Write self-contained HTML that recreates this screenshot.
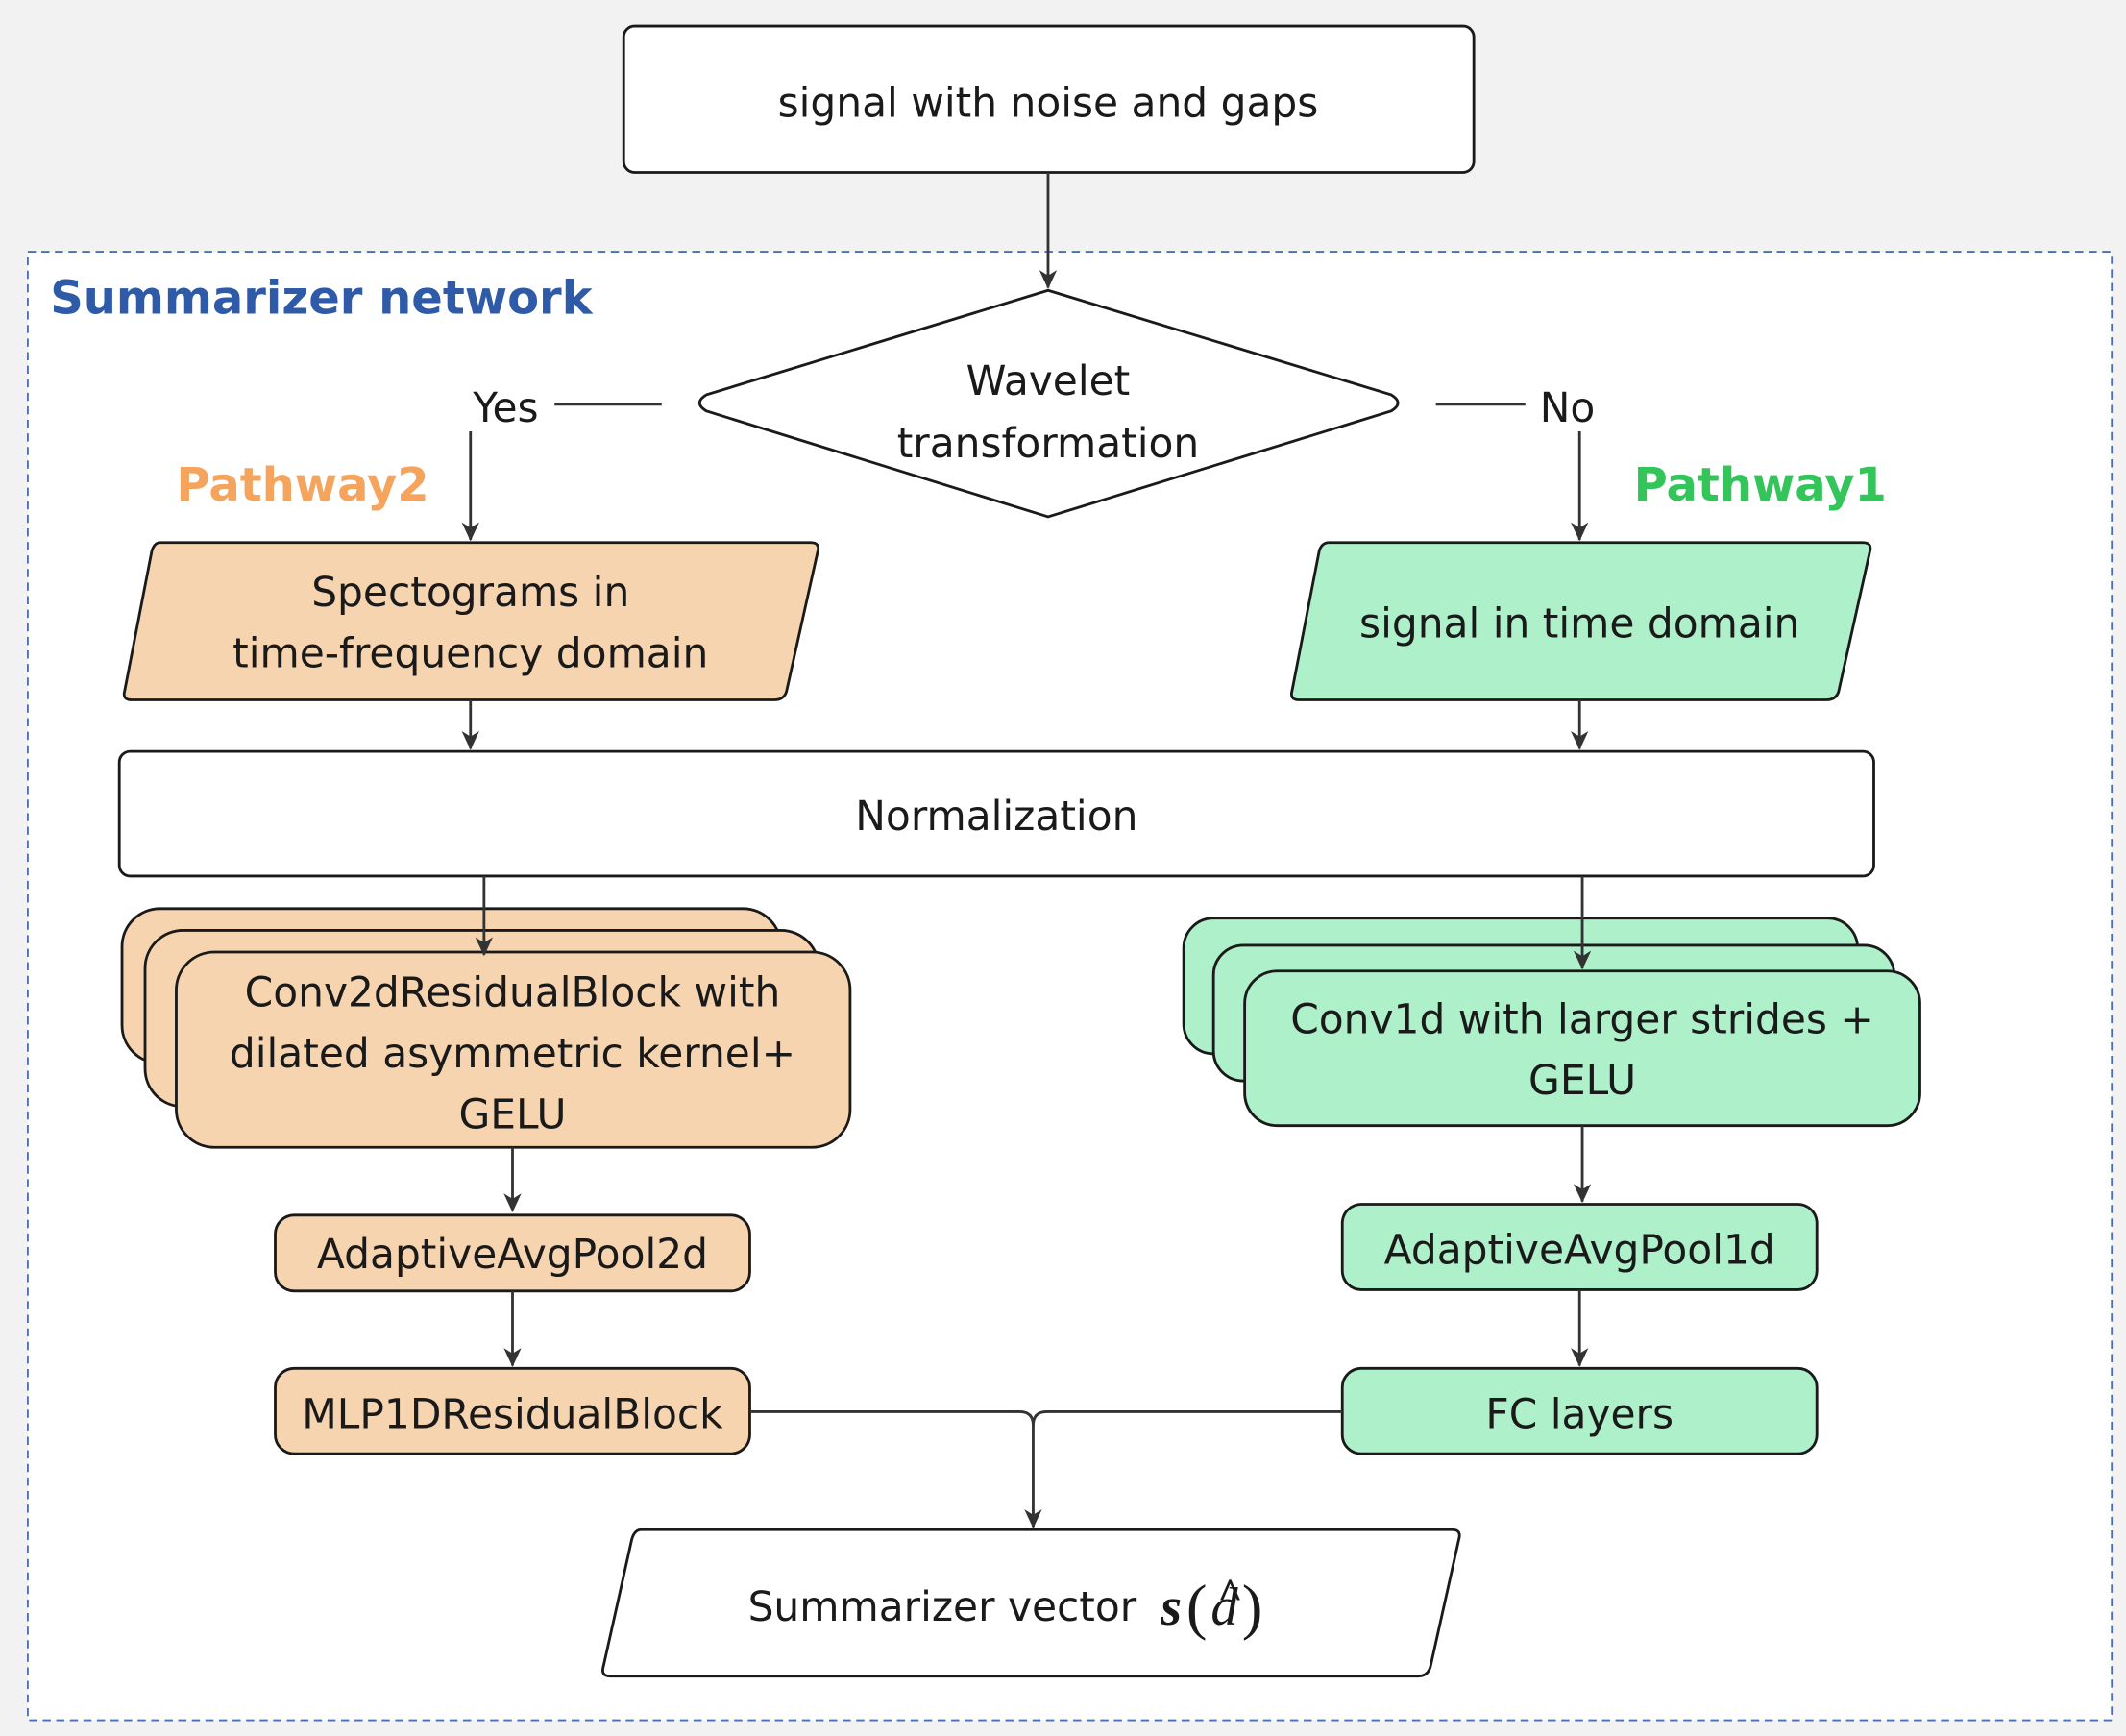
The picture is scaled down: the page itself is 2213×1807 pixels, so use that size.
<!DOCTYPE html>
<html><head><meta charset="utf-8"><style>
html,body{margin:0;padding:0;background:#f2f2f2;}
svg{display:block;}
text{font-family:"DejaVu Sans","Liberation Sans",sans-serif;fill:#1a1a1a;}
</style></head><body>
<svg width="2213" height="1807" viewBox="0 0 1568 1280" xmlns="http://www.w3.org/2000/svg">
<defs>
<marker id="a" viewBox="0 0 14 14" refX="13" refY="7" markerWidth="15" markerHeight="14" orient="auto" markerUnits="userSpaceOnUse"><path d="M0,0.5 L14,7 L0,13.5 L4,7 z" fill="#333"/></marker></defs>
<rect width="1568" height="1280" fill="#f2f2f2"/>
<rect x="20.5" y="185.5" width="1537" height="1083" fill="#fff" stroke="#4a6fb5" stroke-width="1.3" stroke-dasharray="6,4"/>
<g stroke="#1a1a1a" stroke-width="2">
<rect x="460" y="19" width="627" height="108" rx="8" fill="#fff"/>
<path d="M773,214 L1026,291 Q1036,297 1026,303 L773,381 L521,303 Q511,297 521,291 Z" fill="#fff"/>
<path d="M118,400 L598,400 Q605,400 603,407 L580,510 Q578,516 571,516 L97,516 Q90,516 92,509 L112,406 Q114,400 118,400Z" fill="#f7d4b0"/>
<path d="M980,400 L1374,400 Q1381,400 1379,407 L1356,510 Q1354,516 1347,516 L958,516 Q951,516 953,509 L973,406 Q975,400 980,400Z" fill="#adf0c9"/>
<rect x="88" y="554" width="1294" height="92" rx="8" fill="#fff"/>
<rect x="90" y="670" width="486" height="114" rx="28" fill="#f7d4b0"/>
<rect x="107" y="686" width="497" height="130" rx="28" fill="#f7d4b0"/>
<rect x="130" y="702" width="497" height="144" rx="28" fill="#f7d4b0"/>
<rect x="873" y="677" width="497" height="100" rx="22" fill="#adf0c9"/>
<rect x="895" y="697" width="502" height="100" rx="22" fill="#adf0c9"/>
<rect x="918" y="716" width="498" height="114" rx="24" fill="#adf0c9"/>
<rect x="203" y="896" width="350" height="56" rx="14" fill="#f7d4b0"/>
<rect x="203" y="1009" width="350" height="63" rx="14" fill="#f7d4b0"/>
<rect x="990" y="888" width="350" height="63" rx="14" fill="#adf0c9"/>
<rect x="990" y="1009" width="350" height="63" rx="14" fill="#adf0c9"/>
<path d="M473,1128 L1071,1128 Q1078,1128 1076,1135 L1055,1229 Q1053,1236 1046,1236 L450,1236 Q443,1236 445,1229 L466,1135 Q468,1128 473,1128Z" fill="#fff"/>
</g>
<g stroke="#333" stroke-width="2" fill="none" marker-end="url(#a)">
<path d="M773,127 V212"/>
<path d="M347,318 V398"/>
<path d="M1165,318 V398"/>
<path d="M347,516 V552"/>
<path d="M1165,516 V552"/>
<path d="M357,646 V704"/>
<path d="M1167,646 V714"/>
<path d="M378,846 V893"/>
<path d="M1167,830 V886"/>
<path d="M378,952 V1007"/>
<path d="M1165,951 V1007"/>
<path d="M553,1041 H752 Q762,1041 762,1051 V1126"/>
<path d="M990,1041 H772 Q762,1041 762,1051" marker-end="none"/>
</g>
<g stroke="#333" stroke-width="2"><path d="M409,298 H488"/><path d="M1059,298 H1125"/></g>
<text x="37" y="231" font-size="34" font-weight="bold" style="fill:#2e5aa8">Summarizer network</text>
<text x="130" y="369" font-size="34" font-weight="bold" style="fill:#f5a45d">Pathway2</text>
<text x="1205" y="369" font-size="34" font-weight="bold" style="fill:#33c45a">Pathway1</text>
<g font-size="30" text-anchor="middle">
<text x="773" y="86">signal with noise and gaps</text>
<text x="773" y="291">Wavelet</text>
<text x="773" y="337">transformation</text>
<text x="373" y="311">Yes</text>
<text x="1156" y="311">No</text>
<text x="347" y="447">Spectograms in</text>
<text x="347" y="492">time-frequency domain</text>
<text x="1165" y="470">signal in time domain</text>
<text x="735" y="612">Normalization</text>
<text x="378" y="742">Conv2dResidualBlock with</text>
<text x="378" y="787">dilated asymmetric kernel+</text>
<text x="378" y="832">GELU</text>
<text x="1167" y="762">Conv1d with larger strides +</text>
<text x="1167" y="807">GELU</text>
<text x="378" y="935">AdaptiveAvgPool2d</text>
<text x="378" y="1053">MLP1DResidualBlock</text>
<text x="1165" y="932">AdaptiveAvgPool1d</text>
<text x="1165" y="1053">FC layers</text>
<text x="695" y="1195">Summarizer vector</text>
</g>
<text x="856" y="1198" font-size="40" font-style="italic" font-weight="bold" style="font-family:'Liberation Serif',serif">s</text>
<text x="875" y="1200" font-size="46" style="font-family:'Liberation Serif',serif">(</text>
<text x="893" y="1198" font-size="40" font-style="italic" style="font-family:'Liberation Serif',serif">d</text>
<text x="916" y="1200" font-size="46" style="font-family:'Liberation Serif',serif">)</text>
<text x="898" y="1186" font-size="32" font-weight="bold" style="font-family:'Liberation Serif',serif">^</text>
</svg>
</body></html>
